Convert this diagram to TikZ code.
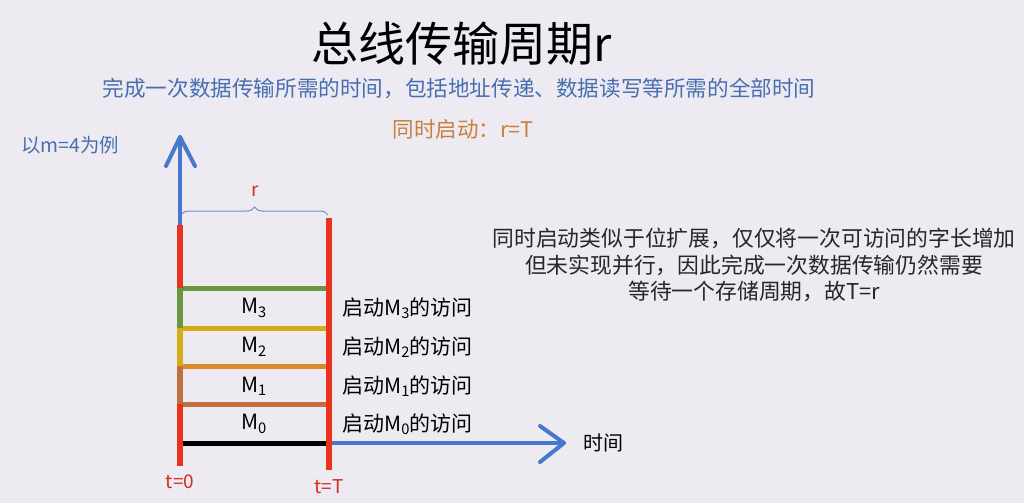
\documentclass[tikz,border=0pt]{standalone}
\usepackage{fontspec}
\setmainfont{Noto Sans CJK SC}
\usetikzlibrary{decorations.pathreplacing}
\definecolor{bg}{RGB}{237,235,241}
\definecolor{ttlblue}{RGB}{72,110,178}
\definecolor{axblue}{RGB}{70,120,205}
\definecolor{orangetxt}{RGB}{200,128,60}
\definecolor{redln}{RGB}{232,52,30}
\definecolor{greenln}{RGB}{105,150,62}
\definecolor{yellowln}{RGB}{212,172,24}
\definecolor{orangeln}{RGB}{218,140,42}
\definecolor{brownln}{RGB}{192,112,62}
\definecolor{redtxt}{RGB}{215,45,35}
\tikzset{
  txt/.style={inner sep=0pt, font=\fontsize{#1}{#1}\selectfont},
  axis/.style={axblue, line width=4pt, line cap=round, line join=round},
  redbar/.style={redln, line width=6pt},
  level/.style={line width=5pt},
}
\begin{document}
\begin{tikzpicture}[x=1pt,y=-1pt]
\useasboundingbox[fill=bg] (0,0) rectangle (1024,503);
% texts
\node[txt=47] (title) at (462,44) {总线传输周期r};
\node[txt=21.6, text=ttlblue] (sub) at (459,88) {完成一次数据传输所需的时间，包括地址传递、数据读写等所需的全部时间};
\node[txt=21.5, text=orangetxt] (sim) at (463,129) {同时启动：r=T};
\node[txt=19.4, text=ttlblue] (ex) at (70,145) {以m=4为例};
\node[txt=21.8, align=center, text=black!85] (expl) at (754,265) {同时启动类似于位扩展，仅仅将一次可访问的字长增加\\[5pt]但未实现并行，因此完成一次数据传输仍然需要\\[5pt]等待一个存储周期，故T=r};
% coordinates
\coordinate (o) at (180,443);
\coordinate (ytop) at (180,137);
\coordinate (xend) at (564,443);
\coordinate (xr) at (329,443);
% axes
\draw[axis] (180,225) -- (ytop);
\draw[axis] (166,166) -- (ytop) -- (195,166);
\draw[axis] (xr) -- (xend);
\draw[axis] (540,426) -- (xend) -- (540,462);
\node[txt=20] (time) at (603,443) {时间};
% levels
\draw[level, greenln] (180,288) -- (329,288);
\draw[level, yellowln] (180,328) -- (329,328);
\draw[level, orangeln] (180,366) -- (329,366);
\draw[level, brownln] (180,404) -- (329,404);
\draw[level, black] (180,443) -- (329,443);
% left coloured segments
\draw[redbar] (180,225) -- (180,288);
\draw[redbar, greenln] (180,288) -- (180,328);
\draw[redbar, yellowln] (180,328) -- (180,366);
\draw[redbar, brownln] (180,366) -- (180,404);
\draw[redbar] (180,404) -- (180,466);
% right red line
\draw[redbar] (329,218) -- (329,470);
% brace
\draw[ttlblue!80, line width=1pt, decorate, decoration={brace, amplitude=8pt}] (181,215) -- (328,215);
\node[txt=19, text=redtxt] (r) at (255,191) {r};
% M labels
\node[txt=21] (m3) at (254,308) {M\textsubscript{3}};
\node[txt=21] (m2) at (254,347) {M\textsubscript{2}};
\node[txt=21] (m1) at (254,386) {M\textsubscript{1}};
\node[txt=21] (m0) at (254,424) {M\textsubscript{0}};
\node[txt=21, anchor=west] (l3) at (342,308) {启动M\textsubscript{3}的访问};
\node[txt=21, anchor=west] (l2) at (342,347) {启动M\textsubscript{2}的访问};
\node[txt=21, anchor=west] (l1) at (342,386) {启动M\textsubscript{1}的访问};
\node[txt=21, anchor=west] (l0) at (342,424) {启动M\textsubscript{0}的访问};
\node[txt=19, text=redtxt] (t0) at (180,482) {t=0};
\node[txt=19, text=redtxt] (tT) at (329,487) {t=T};
\end{tikzpicture}
\end{document}
